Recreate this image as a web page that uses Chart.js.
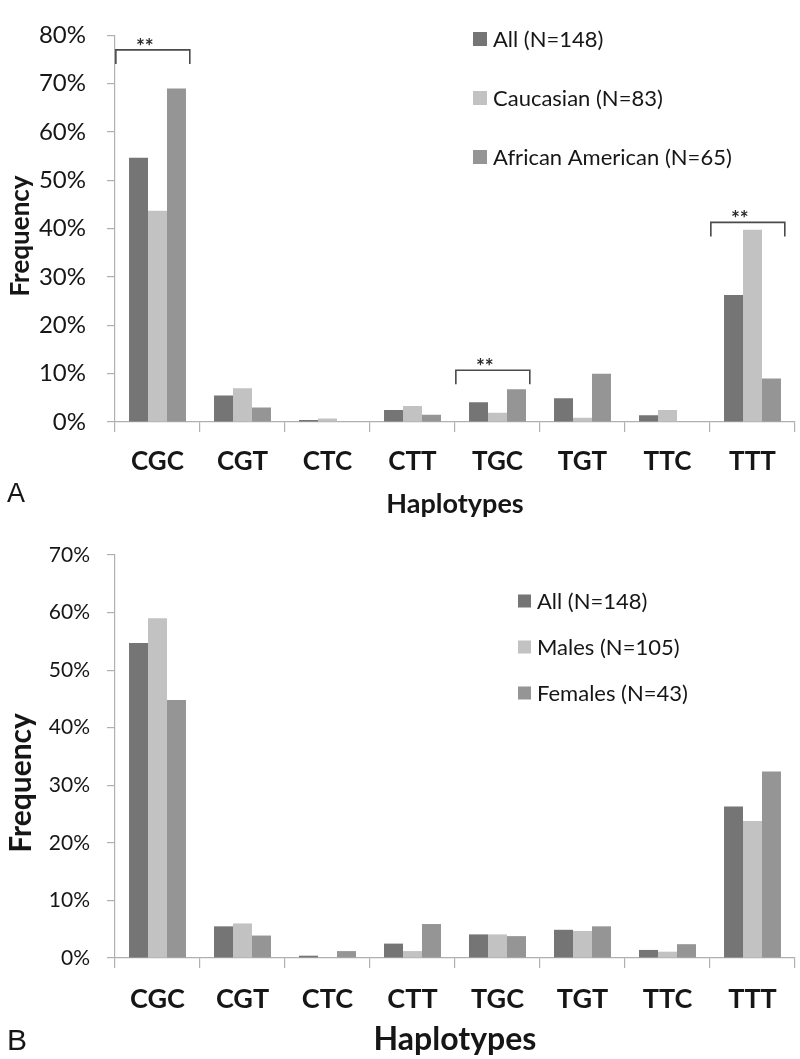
<!DOCTYPE html>
<html>
<head>
<meta charset="utf-8">
<script src="https://cdn.jsdelivr.net/npm/chart.js@4.4.1/dist/chart.umd.min.js"></script>
<style>
  html, body { margin: 0; padding: 0; background: #ffffff; }
  body { width: 800px; height: 1059px; position: relative; overflow: hidden; }
  canvas { position: absolute; left: 0; display: block; }
  #chartA { top: 0; }
  #chartB { top: 520px; }
</style>
</head>
<body>
<canvas id="chartA" width="800" height="520"></canvas>
<canvas id="chartB" width="800" height="539"></canvas>
<script>
// ---------- data ----------
const haplotypes = ['CGC', 'CGT', 'CTC', 'CTT', 'TGC', 'TGT', 'TTC', 'TTT'];

// Panel A (by race), frequencies in %
const allFreq = [54.7, 5.5, 0.4, 2.5, 4.1, 4.9, 1.4, 26.3];
const caucasianFreq = [43.7, 7.0, 0.7, 3.3, 1.9, 0.9, 2.5, 39.8];
const africanAmericanFreq = [69.0, 3.0, 0.1, 1.5, 6.8, 10.0, 0.1, 9.0];
const seriesLabelsA = ['All (N=148)', 'Caucasian (N=83)', 'African American (N=65)'];

// Panel B (by sex), frequencies in %
const malesFreq = [59.0, 6.0, 0.0, 1.2, 4.1, 4.7, 1.1, 23.8];
const femalesFreq = [44.8, 3.9, 1.2, 5.9, 3.8, 5.5, 2.4, 32.4];
const seriesLabelsB = ['All (N=148)', 'Males (N=105)', 'Females (N=43)'];

// Significance markers in panel A
const sigCategories = ['CGC', 'TGC', 'TTT'];
const sigLevels = [77.0, 10.7, 41.3];
const sigLabel = '**';

const yTicksA = { max: 80, step: 10 };
const yTicksB = { max: 70, step: 10 };

// ---------- style ----------
const colors = ['#757575', '#c2c2c2', '#959595'];
const axisColor = '#b0b0b0';
const textColor = '#161616';
const FONT = 'Lato, "Open Sans", sans-serif';

Chart.defaults.font.family = FONT;
Chart.defaults.color = textColor;

function buildChart(canvas, seriesData, seriesLabels, cfg) {
  const datasets = seriesData.map((d, i) => ({
    label: seriesLabels[i],
    data: d,
    backgroundColor: colors[i],
    borderWidth: 0,
    categoryPercentage: 0.67,
    barPercentage: 1.0
  }));

  const overlay = {
    id: 'overlay',
    afterDraw(chart) {
      const ctx = chart.ctx;
      ctx.save();
      ctx.fillStyle = textColor;
      // legend
      const lg = cfg.legend;
      chart.data.datasets.forEach((ds, i) => {
        const yc = lg.y + i * lg.gap;
        ctx.fillStyle = ds.backgroundColor;
        ctx.fillRect(lg.x, yc - lg.box / 2, lg.box, lg.box);
        ctx.fillStyle = textColor;
        ctx.font = lg.size + 'px ' + FONT;
        ctx.textAlign = 'left';
        ctx.textBaseline = 'middle';
        ctx.fillText(ds.label, lg.x + lg.box + 6, yc + 1);
      });
      // y title
      ctx.save();
      ctx.translate(cfg.yTitle.x, cfg.yTitle.y);
      ctx.rotate(-Math.PI / 2);
      ctx.font = 'bold ' + cfg.yTitle.size + 'px ' + FONT;
      ctx.textAlign = 'center';
      ctx.textBaseline = 'middle';
      ctx.fillText('Frequency', 0, 0);
      ctx.restore();
      // x title
      ctx.font = 'bold ' + cfg.xTitle.size + 'px ' + FONT;
      ctx.textAlign = 'center';
      ctx.textBaseline = 'alphabetic';
      ctx.fillText('Haplotypes', cfg.xTitle.x, cfg.xTitle.y);
      // panel letter
      ctx.font = cfg.panel.size + 'px "Liberation Sans", Arial, sans-serif';
      ctx.textAlign = 'left';
      ctx.fillText(cfg.panel.text, cfg.panel.x, cfg.panel.y);
      // significance brackets
      if (cfg.sig) {
        const xs = chart.scales.x, ys = chart.scales.y;
        const cw = xs.width / haplotypes.length;
        ctx.strokeStyle = '#4a4a4a';
        ctx.lineWidth = 1.6;
        sigCategories.forEach((cat, i) => {
          const c = xs.getPixelForValue(haplotypes.indexOf(cat));
          const l = c - 0.49 * cw, r = c + 0.38 * cw;
          const yt = ys.getPixelForValue(sigLevels[i]);
          ctx.beginPath();
          ctx.moveTo(l, yt + 14);
          ctx.lineTo(l, yt);
          ctx.lineTo(r, yt);
          ctx.lineTo(r, yt + 14);
          ctx.stroke();
          ctx.fillStyle = '#2a2a2a';
          ctx.font = 'bold 21px ' + FONT;
          ctx.textAlign = 'center';
          ctx.textBaseline = 'alphabetic';
          ctx.fillText(sigLabel, (l + r) / 2 - 8, yt + 4);
        });
      }
      ctx.restore();
    }
  };

  return new Chart(canvas, {
    type: 'bar',
    data: { labels: haplotypes, datasets: datasets },
    options: {
      responsive: false,
      animation: false,
      layout: { padding: { top: cfg.top, right: 5, bottom: 0, left: 0 } },
      plugins: { legend: { display: false }, tooltip: { enabled: false } },
      scales: {
        x: {
          offset: true,
          grid: { display: true, offset: true, drawOnChartArea: false, drawTicks: true,
                  tickLength: 10, color: axisColor, lineWidth: 1.2 },
          border: { display: true, color: axisColor, width: 1.2 },
          ticks: { font: { size: cfg.catSize, weight: 'bold' }, color: textColor, padding: cfg.catPad,
                   maxRotation: 0, autoSkip: false },
          afterFit(scale) { scale.height = cfg.xHeight; }
        },
        y: {
          min: 0, max: cfg.yMax,
          grid: { display: true, drawOnChartArea: false, drawTicks: true, tickLength: 8,
                  color: axisColor, lineWidth: 1.2 },
          border: { display: true, color: axisColor, width: 1.2 },
          ticks: { stepSize: cfg.yStep, font: { size: cfg.ySize }, color: textColor, padding: cfg.yPad,
                   callback: v => v + '%' },
          afterFit(scale) { scale.width = 115; }
        }
      }
    },
    plugins: [overlay]
  });
}

buildChart(document.getElementById('chartA'),
  [allFreq, caucasianFreq, africanAmericanFreq], seriesLabelsA, {
    top: 17, xHeight: 98, yMax: yTicksA.max, yStep: yTicksA.step,
    ySize: 24, yPad: 21, catSize: 26, catPad: 14,
    legend: { x: 473, y: 39, gap: 59, box: 14, size: 22 },
    yTitle: { x: 21, y: 236, size: 26 },
    xTitle: { x: 455, y: 513, size: 27 },
    panel: { text: 'A', x: 7, y: 502, size: 27 },
    sig: true
  });

buildChart(document.getElementById('chartB'),
  [allFreq, malesFreq, femalesFreq], seriesLabelsB, {
    top: 35, xHeight: 101, yMax: yTicksB.max, yStep: yTicksB.step,
    ySize: 21, yPad: 17, catSize: 27, catPad: 15,
    legend: { x: 518, y: 81, gap: 46, box: 13, size: 22 },
    yTitle: { x: 21, y: 263, size: 30 },
    xTitle: { x: 455, y: 530, size: 32 },
    panel: { text: 'B', x: 7, y: 530, size: 30 },
    sig: false
  });
</script>
</body>
</html>
